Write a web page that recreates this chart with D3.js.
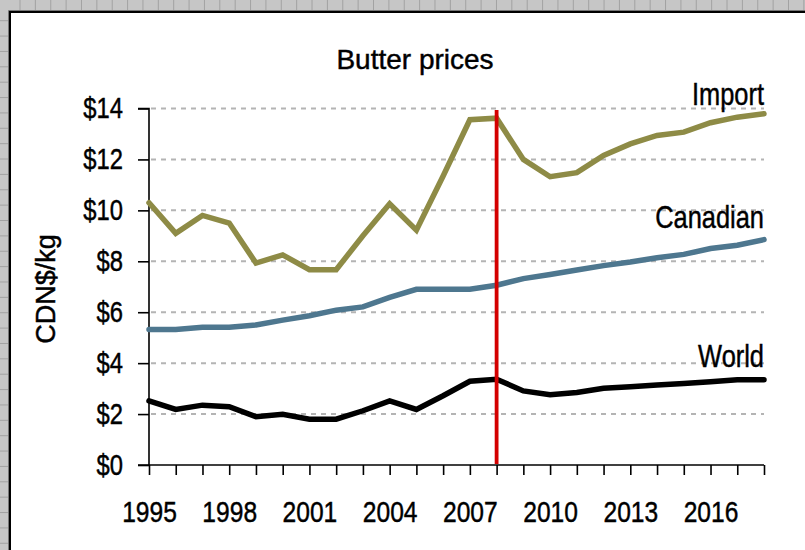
<!DOCTYPE html>
<html>
<head>
<meta charset="utf-8">
<script src="https://cdn.jsdelivr.net/npm/d3@7"></script>
<style>
  html, body { margin: 0; padding: 0; background: #c6c6c6; }
  svg { display: block; }
  svg text { stroke: #000; stroke-width: 0.45px; }
</style>
</head>
<body>
<svg id="chart" width="805" height="550"></svg>
<script>
// Butter prices, CDN$/kg, 1995-2018
const years = d3.range(1995, 2019);
const importPrice   = [10.3, 9.1, 9.8, 9.5, 7.93, 8.25, 7.67, 7.67, 9.0, 10.26, 9.22, 11.35, 13.56, 13.62, 12.0, 11.32, 11.48, 12.16, 12.61, 12.94, 13.07, 13.44, 13.66, 13.79];
const canadianPrice = [5.32, 5.32, 5.41, 5.41, 5.5, 5.69, 5.86, 6.08, 6.21, 6.58, 6.9, 6.9, 6.9, 7.06, 7.32, 7.48, 7.66, 7.83, 7.97, 8.14, 8.27, 8.5, 8.63, 8.85];
const worldPrice    = [2.52, 2.18, 2.35, 2.29, 1.9, 1.99, 1.8, 1.8, 2.13, 2.52, 2.18, 2.72, 3.29, 3.37, 2.91, 2.76, 2.85, 3.01, 3.07, 3.14, 3.2, 3.27, 3.35, 3.35];
const seriesNames = ["Import", "Canadian", "World"];
const yTicks = [0, 2, 4, 6, 8, 10, 12, 14];
const xTickLabels = [1995, 1998, 2001, 2004, 2007, 2010, 2013, 2016];
const markerYear = 2008;

const sans = '"Liberation Sans", Arial, sans-serif';
const narrowScale = 0.82;   // condensed look: Arial metrics squeezed horizontally

const svg = d3.select("#chart");
const W = 805, H = 550;

// spreadsheet-style frame: grey header strips with cell dividers
svg.append("rect").attr("width", W).attr("height", H).attr("fill", "#c6c6c6");
const cell = 15.37;
svg.append("g").selectAll("line").data(d3.range(20, W, cell)).join("line")
  .attr("x1", d => d).attr("x2", d => d).attr("y1", 0).attr("y2", 10)
  .attr("stroke", "#a2a2a2").attr("stroke-width", 1);
svg.append("g").selectAll("line").data(d3.range(20.7, H, cell)).join("line")
  .attr("y1", d => d).attr("y2", d => d).attr("x1", 0).attr("x2", 8)
  .attr("stroke", "#a2a2a2").attr("stroke-width", 1);
svg.append("rect").attr("x", 10).attr("y", 12).attr("width", W - 10).attr("height", H - 12).attr("fill", "#fff");
svg.append("path").attr("d", `M8.5,${H} V10.5 H${W}`).attr("fill", "none").attr("stroke", "#777").attr("stroke-width", 1);
svg.append("path").attr("d", `M10,${H} V12 H${W}`).attr("fill", "none").attr("stroke", "#000").attr("stroke-width", 2);

const x = d3.scaleLinear().domain([1995, 2018]).range([149, 764]);
const y = d3.scaleLinear().domain([0, 14]).range([465, 108.5]);

// title
svg.append("text").attr("x", 415).attr("y", 68.5).attr("text-anchor", "middle")
  .attr("font-family", sans).attr("font-size", 28).attr("fill", "#000")
  .text("Butter prices");

// y-axis title
svg.append("text").attr("transform", `translate(55,289) rotate(-90)`)
  .attr("text-anchor", "middle").attr("font-family", sans).attr("font-size", 27)
  .attr("fill", "#000").text("CDN$/kg");

// dashed gridlines
svg.append("g").selectAll("line").data(yTicks.filter(v => v > 0)).join("line")
  .attr("x1", x(1995) + 2).attr("x2", x(2018)).attr("y1", d => y(d)).attr("y2", d => y(d))
  .attr("stroke", "#b4b4b4").attr("stroke-width", 2).attr("stroke-dasharray", "5,5");

// y axis
const yAxis = d3.axisLeft(y).tickValues(yTicks).tickSize(11).tickPadding(15)
  .tickFormat(d => "$" + d);
const gy = svg.append("g").attr("transform", `translate(${x(1995)},0)`).call(yAxis);
gy.select(".domain").attr("d", `M-11,${y(14)} H0 V${y(0)}`).attr("stroke", "#000").attr("stroke-width", 1.6);
gy.selectAll(".tick line").attr("stroke", "#000").attr("stroke-width", 1.6);
gy.selectAll(".tick text")
  .attr("font-family", sans).attr("font-size", 29).attr("fill", "#000")
  .attr("x", -26 / narrowScale).attr("transform", `scale(${narrowScale},1)`);

// x axis
const xAxis = d3.axisBottom(x).tickValues(years).tickSize(10).tickPadding(26)
  .tickFormat(d => xTickLabels.includes(d) ? String(d) : "");
const gx = svg.append("g").attr("transform", `translate(0,${y(0)})`).call(xAxis);
gx.select(".domain").attr("d", `M138,0 H${x(2018)}`).attr("stroke", "#000").attr("stroke-width", 1.6);
gx.selectAll(".tick line").attr("stroke", "#000").attr("stroke-width", 1.6);
gx.selectAll(".tick text")
  .attr("font-family", sans).attr("font-size", 30).attr("fill", "#000")
  .attr("transform", `scale(${narrowScale},1)`);

// series lines
const series = [
  { name: seriesNames[0], values: importPrice,   color: "#8e8b46", dy: -9 },
  { name: seriesNames[1], values: canadianPrice, color: "#4e778f", dy: -12 },
  { name: seriesNames[2], values: worldPrice,    color: "#000000", dy: -13 }
];
const line = d3.line().x((d, i) => x(years[i])).y(d => y(d));
svg.append("g").selectAll("path").data(series).join("path")
  .attr("d", d => line(d.values)).attr("fill", "none")
  .attr("stroke", d => d.color).attr("stroke-width", 5.5)
  .attr("stroke-linecap", "round").attr("stroke-linejoin", "miter");

// series labels at the right end
svg.append("g").selectAll("text").data(series).join("text")
  .attr("transform", d => `translate(${x(2018)},${y(d.values[d.values.length - 1]) + d.dy}) scale(${narrowScale},1)`)
  .attr("text-anchor", "end").attr("font-family", sans).attr("font-size", 31)
  .attr("fill", "#000").text(d => d.name);

// vertical marker
svg.append("line").attr("x1", x(markerYear)).attr("x2", x(markerYear))
  .attr("y1", 110).attr("y2", y(0) - 1)
  .attr("stroke", "#d40000").attr("stroke-width", 3.8);
</script>
</body>
</html>
